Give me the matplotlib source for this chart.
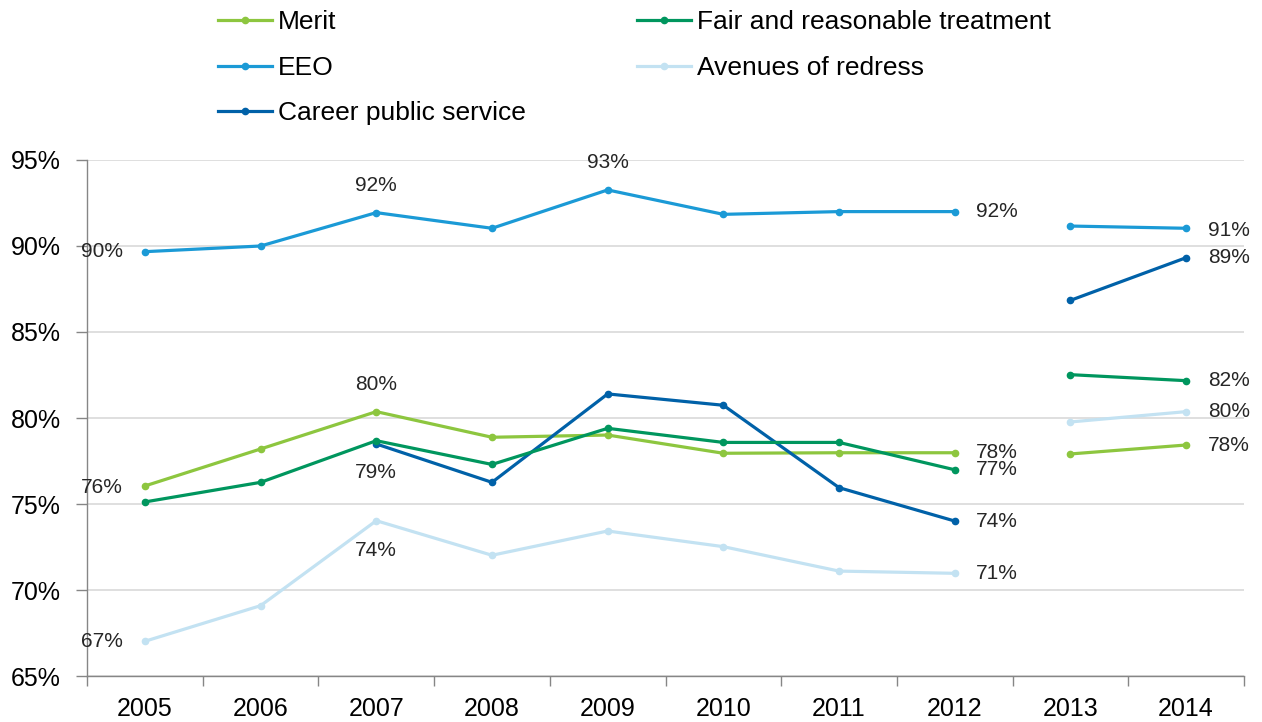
import numpy as np
import matplotlib.pyplot as plt
from matplotlib.ticker import FuncFormatter

plt.rcParams['font.family'] = ['Liberation Sans', 'DejaVu Sans']

years = ['2005', '2006', '2007', '2008', '2009', '2010', '2011', '2012', '2013', '2014']

merit = [76.05, 78.2, 80.37, 78.88, 79.01, 77.95, 77.98, 77.98, 77.91, 78.43]
fair = [75.12, 76.26, 78.68, 77.3, 79.4, 78.58, 78.58, 76.99, 82.52, 82.17]
eeo = [89.67, 90.0, 91.94, 91.03, 93.26, 91.84, 92.0, 92.0, 91.16, 91.03]
redress = [67.02, 69.09, 74.03, 72.02, 73.43, 72.52, 71.1, 70.97, 79.77, 80.37]
career = [np.nan, np.nan, 78.49, 76.26, 81.4, 80.74, 75.95, 74.01, 86.84, 89.32]

series = [
    ('Merit', merit, '#8DC63F'),
    ('EEO', eeo, '#1B9AD6'),
    ('Career public service', career, '#0061A8'),
    ('Fair and reasonable treatment', fair, '#00965E'),
    ('Avenues of redress', redress, '#C3E2F2'),
]

# which points get a value label: (series name, year index, dx, dy, ha)
labels = [
    ('EEO', 0, -22, 0, 'right'), ('Merit', 0, -22, -2, 'right'), ('Avenues of redress', 0, -22, 0, 'right'),
    ('EEO', 2, 0, 27, 'center'), ('Merit', 2, 0, 27, 'center'),
    ('Fair and reasonable treatment', 2, 0, -32, 'center'), ('Avenues of redress', 2, 0, -30, 'center'),
    ('EEO', 4, 0, 27, 'center'),
    ('EEO', 7, 21, 0, 'left'), ('Merit', 7, 21, 0, 'left'), ('Fair and reasonable treatment', 7, 21, 0, 'left'),
    ('Career public service', 7, 21, 0, 'left'), ('Avenues of redress', 7, 21, 0, 'left'),
    ('EEO', 9, 22, -2, 'left'), ('Career public service', 9, 22, 0, 'left'),
    ('Fair and reasonable treatment', 9, 22, 0, 'left'), ('Avenues of redress', 9, 22, 0, 'left'),
    ('Merit', 9, 22, 0, 'left'),
]

fig = plt.figure(figsize=(12.62, 7.22), dpi=100)
ax = fig.add_axes([0.069, 0.0637, 0.9167, 0.7147])

x = np.arange(len(years))
handles = []
for name, vals, col in series:
    vals = np.array(vals, dtype=float)
    # break between 2012 and 2013
    h, = ax.plot(x[:8], vals[:8], color=col, lw=2.3, marker='o', ms=4.5, label=name, zorder=3)
    ax.plot(x[8:], vals[8:], color=col, lw=2.3, marker='o', ms=4.5, zorder=3)
    handles.append(h)

lookup = {name: vals for name, vals, col in series}
for name, i, dx, dy, ha in labels:
    v = lookup[name][i]
    ax.annotate(f"{round(v)}%", (x[i], v), xytext=(dx, dy), textcoords='offset pixels',
                ha=ha, va='center', fontsize=15, color='#262626', zorder=4)

ax.set_xlim(-0.5, 9.5)
ax.set_ylim(65, 95)
ax.set_yticks(np.arange(65, 96, 5))
ax.yaxis.set_major_formatter(FuncFormatter(lambda v, p: f"{v:.0f}%"))
ax.set_xticks(x)
ax.set_xticklabels(years)
ax.set_xticks(np.arange(-0.5, 10, 1), minor=True)
ax.tick_params(axis='x', which='major', length=0, labelsize=18, pad=15)
ax.tick_params(axis='x', which='minor', length=7, width=1, color='#868686')
ax.tick_params(axis='y', length=8, width=1, color='#868686', labelsize=18, pad=11)

ax.grid(axis='y', color='#D9D9D9', lw=1.2)
ax.set_axisbelow(True)
for s in ['top', 'right']:
    ax.spines[s].set_visible(False)
for s in ['left', 'bottom']:
    ax.spines[s].set_color('#868686')
    ax.spines[s].set_linewidth(1)

fig.legend(handles=handles, ncol=2, loc='upper left', bbox_to_anchor=(0.1727, 0.986),
           frameon=False, fontsize=19, handlelength=2.05, handletextpad=0.23,
           labelspacing=0.82, columnspacing=4.2, borderpad=0, borderaxespad=0)

fig.savefig('out.png', dpi=100)
